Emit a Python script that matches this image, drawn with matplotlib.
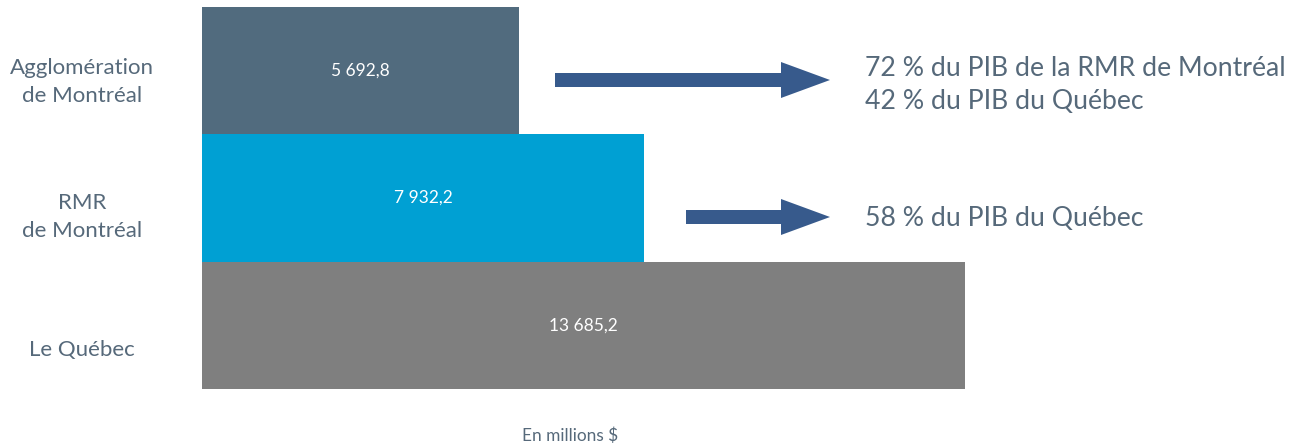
import matplotlib.pyplot as plt
from matplotlib.patches import FancyArrow

plt.rcParams['font.family'] = ['Lato', 'DejaVu Sans']

# Données (PIB, en millions $)
categories = ['Agglomération\nde Montréal', 'RMR\nde Montréal', 'Le Québec']
valeurs = [5692.8, 7932.2, 13685.2]
etiquettes = ['5 692,8', '7 932,2', '13 685,2']
couleurs = ['#516b7e', '#00a0d3', '#7f7f7f']
commentaires = ['72 % du PIB de la RMR de Montréal\n42 % du PIB du Québec',
                '58 % du PIB du Québec']

W, H = 1303, 445
fig = plt.figure(figsize=(W / 100, H / 100), dpi=100)
ax = fig.add_axes([202 / W, (H - 389) / H, (965 - 202) / W, (389 - 7) / H])

pos = range(len(valeurs))
ax.barh(pos, valeurs, height=1.0, color=couleurs)
for i, v in enumerate(valeurs):
    ax.text(v / 2, i, etiquettes[i], ha='center', va='center',
            color='white', fontsize=12.5)

ax.set_xlim(0, max(valeurs))
ax.set_ylim(len(valeurs) - 0.5, -0.5)
ax.axis('off')

# calque en pixels pour les annotations
ov = fig.add_axes([0, 0, 1, 1], zorder=-1)
ov.set_xlim(0, W)
ov.set_ylim(H, 0)
ov.axis('off')

texte = '#56697a'
label_y = [82, 217, 350]
for lab, y in zip(categories, label_y):
    ov.text(82, y, lab, ha='center', va='center', color=texte,
            fontsize=16, linespacing=1.55)

fleche = '#375a8c'
for x0, y in [(555, 80), (686, 217)]:
    ov.add_patch(FancyArrow(x0, y, 830 - x0, 0, width=14, head_width=36,
                            head_length=49, length_includes_head=True,
                            color=fleche, lw=0))

ov.text(865, 85, commentaires[0], ha='left', va='center', color=texte,
        fontsize=19.2, linespacing=1.44)
ov.text(865, 218, commentaires[1], ha='left', va='center', color=texte,
        fontsize=19.2)

ov.text(570, 436, 'En millions $', ha='center', va='center', color=texte,
        fontsize=12.4)

fig.savefig('out.png', dpi=100, facecolor='white')
